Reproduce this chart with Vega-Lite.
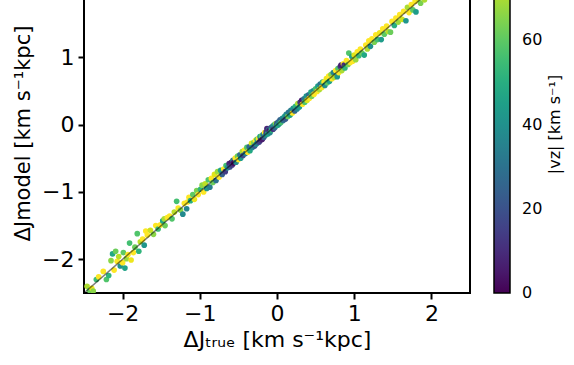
{
  "$schema": "https://vega.github.io/schema/vega-lite/v6.json",
  "autosize": "none",
  "padding": {"left": 84, "top": -44, "right": 104, "bottom": 72},
  "width": 386,
  "height": 337,
  "config": {
    "font": "DejaVu Sans",
    "view": {"stroke": "black", "strokeWidth": 2},
    "axis": {"grid": false, "domain": false, "tickColor": "black", "tickWidth": 2, "tickSize": 6, "labelColor": "black", "labelFontSize": 22, "titleFontSize": 22, "titleFontWeight": "normal", "titleColor": "black", "labelFont": "DejaVu Sans", "titleFont": "DejaVu Sans"}
  },
  "resolve": {"axis": {"y": "independent"}},
  "layer": [
    {
      "data": {"values": [
        {"t":-2.46,"m":-2.40,"v":70},{"t":-2.43,"m":-2.46,"v":62},{"t":-2.40,"m":-2.43,"v":78},{"t":-2.38,"m":-2.47,"v":66},{"t":-2.34,"m":-2.30,"v":55},{"t":-2.31,"m":-2.26,"v":88},{"t":-2.25,"m":-2.18,"v":82},{"t":-2.21,"m":-2.30,"v":58},{"t":-2.18,"m":-2.24,"v":52},{"t":-2.15,"m":-2.02,"v":66},{"t":-2.13,"m":-1.92,"v":48},{"t":-2.11,"m":-2.16,"v":90},{"t":-2.09,"m":-1.88,"v":62},{"t":-2.07,"m":-2.03,"v":84},{"t":-2.05,"m":-1.96,"v":72},{"t":-2.03,"m":-2.10,"v":40},{"t":-2.00,"m":-2.05,"v":88},{"t":-1.99,"m":-1.90,"v":60},{"t":-1.97,"m":-2.13,"v":46},{"t":-1.95,"m":-1.99,"v":68},{"t":-1.93,"m":-1.93,"v":85},{"t":-1.91,"m":-1.76,"v":56},{"t":-1.89,"m":-2.01,"v":78},{"t":-1.86,"m":-1.90,"v":90},{"t":-1.84,"m":-1.82,"v":62},{"t":-1.81,"m":-1.62,"v":58},{"t":-1.79,"m":-1.88,"v":52},{"t":-1.77,"m":-1.74,"v":72},{"t":-1.74,"m":-1.70,"v":88},{"t":-1.72,"m":-1.79,"v":42},{"t":-1.70,"m":-1.58,"v":90},{"t":-1.68,"m":-1.64,"v":82},{"t":-1.64,"m":-1.57,"v":74},{"t":-1.60,"m":-1.63,"v":66},{"t":-1.57,"m":-1.50,"v":86},{"t":-1.54,"m":-1.55,"v":55},{"t":-1.51,"m":-1.49,"v":80},{"t":-1.48,"m":-1.43,"v":48},{"t":-1.46,"m":-1.40,"v":70},{"t":-1.45,"m":-1.50,"v":62},{"t":-1.42,"m":-1.38,"v":85},{"t":-1.39,"m":-1.36,"v":90},{"t":-1.36,"m":-1.40,"v":58},{"t":-1.33,"m":-1.30,"v":72},{"t":-1.30,"m":-1.14,"v":56},{"t":-1.28,"m":-1.24,"v":88},{"t":-1.25,"m":-1.27,"v":66},{"t":-1.22,"m":-1.33,"v":38},{"t":-1.20,"m":-1.17,"v":80},{"t":-1.17,"m":-1.25,"v":36},{"t":-1.16,"m":-1.15,"v":85},{"t":-1.14,"m":-1.08,"v":86},{"t":-1.12,"m":-1.13,"v":50},{"t":-1.09,"m":-1.04,"v":60},{"t":-1.07,"m":-1.11,"v":78},{"t":-1.04,"m":-0.98,"v":64},{"t":-1.02,"m":-1.04,"v":90},
        {"t":-0.99,"m":-0.96,"v":52},{"t":-0.97,"m":-0.90,"v":66},{"t":-0.95,"m":-1.00,"v":86},{"t":-0.93,"m":-0.88,"v":72},{"t":-0.91,"m":-0.95,"v":42},{"t":-0.89,"m":-0.82,"v":58},{"t":-0.87,"m":-0.93,"v":34},{"t":-0.85,"m":-0.80,"v":88},{"t":-0.83,"m":-0.86,"v":62},{"t":-0.81,"m":-0.74,"v":76},{"t":-0.79,"m":-0.83,"v":30},{"t":-0.77,"m":-0.70,"v":68},{"t":-0.75,"m":-0.78,"v":88},{"t":-0.73,"m":-0.68,"v":46},{"t":-0.71,"m":-0.74,"v":24},{"t":-0.69,"m":-0.66,"v":82},{"t":-0.67,"m":-0.70,"v":14},{"t":-0.66,"m":-0.61,"v":56},{"t":-0.64,"m":-0.64,"v":40},{"t":-0.62,"m":-0.58,"v":8},{"t":-0.61,"m":-0.63,"v":20},{"t":-0.59,"m":-0.56,"v":4},{"t":-0.58,"m":-0.60,"v":12},{"t":-0.57,"m":-0.53,"v":30},{"t":-0.56,"m":-0.57,"v":2},{"t":-0.54,"m":-0.50,"v":85},{"t":-0.53,"m":-0.56,"v":38},{"t":-0.51,"m":-0.47,"v":62},{"t":-0.50,"m":-0.52,"v":90},{"t":-0.48,"m":-0.45,"v":28},{"t":-0.47,"m":-0.50,"v":44},{"t":-0.45,"m":-0.40,"v":70},{"t":-0.44,"m":-0.46,"v":18},{"t":-0.42,"m":-0.38,"v":88},{"t":-0.41,"m":-0.43,"v":34},{"t":-0.39,"m":-0.34,"v":58},{"t":-0.38,"m":-0.41,"v":82},{"t":-0.36,"m":-0.33,"v":26},{"t":-0.35,"m":-0.39,"v":48},{"t":-0.33,"m":-0.28,"v":76},{"t":-0.32,"m":-0.34,"v":36},{"t":-0.30,"m":-0.27,"v":64},
        {"t":-0.29,"m":-0.32,"v":22},{"t":-0.28,"m":-0.24,"v":84},{"t":-0.27,"m":-0.29,"v":40},{"t":-0.26,"m":-0.22,"v":56},{"t":-0.25,"m":-0.27,"v":30},{"t":-0.24,"m":-0.21,"v":90},{"t":-0.23,"m":-0.26,"v":16},{"t":-0.22,"m":-0.18,"v":44},{"t":-0.21,"m":-0.23,"v":10},{"t":-0.20,"m":-0.17,"v":60},{"t":-0.19,"m":-0.22,"v":6},{"t":-0.18,"m":-0.15,"v":34},{"t":-0.17,"m":-0.19,"v":24},{"t":-0.16,"m":-0.12,"v":80},{"t":-0.15,"m":-0.16,"v":38},{"t":-0.14,"m":-0.11,"v":14},{"t":-0.13,"m":-0.06,"v":8},{"t":-0.12,"m":-0.14,"v":46},{"t":-0.11,"m":-0.08,"v":28},{"t":-0.10,"m":-0.09,"v":4},{"t":-0.09,"m":-0.12,"v":36},{"t":-0.08,"m":-0.05,"v":20},{"t":-0.07,"m":-0.08,"v":52},{"t":-0.06,"m":-0.03,"v":32},{"t":-0.05,"m":-0.07,"v":12},{"t":-0.04,"m":-0.01,"v":42},{"t":-0.03,"m":-0.05,"v":26},{"t":-0.02,"m":0.01,"v":66},{"t":-0.01,"m":-0.02,"v":34},{"t":0.00,"m":0.02,"v":18},{"t":0.01,"m":-0.01,"v":48},{"t":0.02,"m":0.04,"v":30},{"t":0.03,"m":0.01,"v":40},{"t":0.04,"m":0.07,"v":24},{"t":0.05,"m":0.03,"v":56},{"t":0.07,"m":0.09,"v":36},{"t":0.08,"m":0.06,"v":28},{"t":0.10,"m":0.12,"v":44},{"t":0.11,"m":0.08,"v":22},{"t":0.12,"m":0.15,"v":38},{"t":0.14,"m":0.12,"v":62},{"t":0.15,"m":0.18,"v":30},{"t":0.17,"m":0.14,"v":46},{"t":0.18,"m":0.21,"v":34},{"t":0.20,"m":0.17,"v":84},{"t":0.21,"m":0.24,"v":40},{"t":0.23,"m":0.20,"v":26},{"t":0.24,"m":0.27,"v":52},{"t":0.26,"m":0.23,"v":36},{"t":0.27,"m":0.31,"v":70},{"t":0.29,"m":0.26,"v":44},{"t":0.30,"m":0.33,"v":12},{"t":0.32,"m":0.36,"v":6},{"t":0.33,"m":0.30,"v":88},{"t":0.35,"m":0.38,"v":32},{"t":0.36,"m":0.33,"v":58},{"t":0.38,"m":0.42,"v":42},{"t":0.39,"m":0.36,"v":76},{"t":0.41,"m":0.44,"v":28},{"t":0.42,"m":0.39,"v":90},{"t":0.44,"m":0.48,"v":48},{"t":0.45,"m":0.42,"v":64},{"t":0.47,"m":0.50,"v":38},{"t":0.48,"m":0.45,"v":82},
        {"t":0.50,"m":0.53,"v":56},{"t":0.52,"m":0.49,"v":90},{"t":0.53,"m":0.57,"v":44},{"t":0.55,"m":0.52,"v":70},{"t":0.56,"m":0.60,"v":30},{"t":0.58,"m":0.55,"v":86},{"t":0.59,"m":0.63,"v":52},{"t":0.61,"m":0.63,"v":92},{"t":0.62,"m":0.58,"v":40},{"t":0.64,"m":0.68,"v":78},{"t":0.65,"m":0.62,"v":60},{"t":0.67,"m":0.72,"v":88},{"t":0.68,"m":0.64,"v":46},{"t":0.70,"m":0.74,"v":66},{"t":0.71,"m":0.68,"v":84},{"t":0.73,"m":0.77,"v":36},{"t":0.74,"m":0.70,"v":72},{"t":0.76,"m":0.80,"v":90},{"t":0.78,"m":0.71,"v":42},{"t":0.79,"m":0.83,"v":58},{"t":0.80,"m":0.77,"v":88},{"t":0.82,"m":0.86,"v":14},{"t":0.83,"m":0.88,"v":6},{"t":0.84,"m":0.80,"v":70},{"t":0.86,"m":0.90,"v":80},{"t":0.87,"m":0.88,"v":10},{"t":0.88,"m":0.84,"v":52},{"t":0.90,"m":0.95,"v":86},{"t":0.92,"m":0.89,"v":64},{"t":0.93,"m":1.06,"v":58},{"t":0.95,"m":0.92,"v":82},{"t":0.97,"m":1.01,"v":46},{"t":0.98,"m":0.94,"v":90},
        {"t":1.00,"m":1.03,"v":76},{"t":1.02,"m":0.96,"v":68},{"t":1.04,"m":1.08,"v":88},{"t":1.06,"m":1.02,"v":54},{"t":1.08,"m":1.12,"v":84},{"t":1.10,"m":1.06,"v":62},{"t":1.13,"m":1.03,"v":48},{"t":1.15,"m":1.18,"v":90},{"t":1.17,"m":1.12,"v":70},{"t":1.19,"m":1.24,"v":82},{"t":1.21,"m":1.16,"v":40},{"t":1.23,"m":1.27,"v":86},{"t":1.26,"m":1.22,"v":64},{"t":1.28,"m":1.33,"v":92},{"t":1.30,"m":1.26,"v":56},{"t":1.33,"m":1.36,"v":78},{"t":1.35,"m":1.26,"v":44},{"t":1.37,"m":1.42,"v":88},{"t":1.39,"m":1.34,"v":60},{"t":1.42,"m":1.46,"v":84},{"t":1.44,"m":1.38,"v":72},{"t":1.47,"m":1.37,"v":62},{"t":1.49,"m":1.53,"v":90},{"t":1.52,"m":1.47,"v":50},{"t":1.54,"m":1.58,"v":80},{"t":1.57,"m":1.52,"v":68},{"t":1.59,"m":1.63,"v":88},{"t":1.62,"m":1.56,"v":74},{"t":1.64,"m":1.68,"v":92},{"t":1.67,"m":1.54,"v":42},{"t":1.69,"m":1.74,"v":70},{"t":1.71,"m":1.66,"v":84},{"t":1.74,"m":1.78,"v":88},{"t":1.76,"m":1.70,"v":60},{"t":1.79,"m":1.83,"v":80},{"t":1.80,"m":1.67,"v":44},{"t":1.83,"m":1.86,"v":76},{"t":1.86,"m":1.80,"v":64},{"t":1.88,"m":1.92,"v":86},{"t":1.91,"m":1.85,"v":70},{"t":1.94,"m":1.98,"v":90}
      ]},
      "mark": {"type": "circle", "size": 32, "opacity": 1, "clip": true},
      "encoding": {
        "x": {"field": "t", "type": "quantitative", "scale": {"domain": [-2.5, 2.5], "nice": false, "zero": false},
              "axis": {"values": [-2, -1, 0, 1, 2], "format": "d", "title": "ΔJₜᵣᵤₑ [km s⁻¹kpc]", "labelPadding": 4, "titlePadding": 5}},
        "y": {"field": "m", "type": "quantitative", "scale": {"domain": [-2.5, 2.5], "nice": false, "zero": false},
              "axis": {"orient": "left", "values": [-2, -1, 0, 1], "format": "d", "title": "ΔJmodel [km s⁻¹kpc]", "labelPadding": 4, "titlePadding": 8, "titleFontSize": 21, "titleY": 177}},
        "color": {"field": "v", "type": "quantitative",
                  "scale": {"scheme": "viridis", "domain": [0, 80], "clamp": true},
                  "legend": {"orient": "none", "legendX": 410, "legendY": 0, "direction": "vertical", "title": null,
                             "gradientLength": 337, "gradientThickness": 16, "gradientStrokeColor": "black", "gradientStrokeWidth": 1.5,
                             "values": [0.01, 20, 40, 60], "format": "d", "labelFontSize": 16, "labelFont": "DejaVu Sans", "labelColor": "black",
                             "labelOffset": 12, "labelOverlap": false, "padding": 0}}
      }
    },
    {
      "data": {"values": [{"t": -2.5, "m": -2.5}, {"t": 2.5, "m": 2.5}]},
      "mark": {"type": "line", "color": "black", "opacity": 0.5, "strokeWidth": 1.5, "clip": true},
      "encoding": {
        "x": {"field": "t", "type": "quantitative"},
        "y": {"field": "m", "type": "quantitative",
              "axis": {"orient": "right", "labels": false, "ticks": false, "domain": false, "title": "|vz| [km s⁻¹]",
                       "titleAngle": 270, "titleX": 84, "titleY": 168, "titleAlign": "center", "titleBaseline": "middle", "titleFontSize": 16}}
      }
    }
  ]
}
